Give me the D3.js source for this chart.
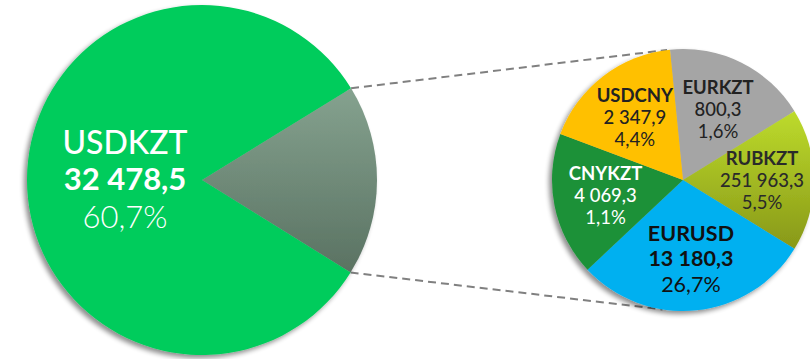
<!DOCTYPE html>
<html>
<head>
<meta charset="utf-8">
<script src="https://cdn.jsdelivr.net/npm/d3@7"></script>
<style>
  html, body { margin: 0; padding: 0; background: #fff; }
  svg { display: block; font-family: Lato, "Open Sans", sans-serif; }
</style>
</head>
<body>
<div id="chart"></div>
<script>
    // main pie: USDKZT against the rest (shares are the drawn angles in degrees)
    var mainCategories = ['Others', 'USDKZT'];
    var mainShares = [63.5, 296.5];
    var mainValue = 32478.5;
    var mainPercent = 60.7;

    // detail pie
    var pairs = ['EURKZT', 'RUBKZT', 'EURUSD', 'CNYKZT', 'USDCNY'];
    var volumes = [800.3, 251963.3, 13180.3, 4069.3, 2347.9];
    var percents = [1.6, 5.5, 26.7, 1.1, 4.4];
    var sliceShares = [64, 63.4, 105.1, 63.8, 63.7];

    var width = 810, height = 359;
    var deg = Math.PI / 180;

    var locale = d3.formatLocale({decimal: ',', thousands: '\u00a0', grouping: [3]});
    var fmtValue = locale.format(',.1f');
    var fmtPct = function (v) { return locale.format('.1f')(v) + '%'; };

    var svg = d3.select('#chart')
        .append('svg')
        .attr('width', width)
        .attr('height', height);

    var defs = svg.append('defs');

    // soft drop shadow under both pies
    var shadow = defs.append('filter')
        .attr('id', 'shadow')
        .attr('x', '-10%').attr('y', '-10%')
        .attr('width', '120%').attr('height', '120%');
    shadow.append('feGaussianBlur').attr('in', 'SourceAlpha').attr('stdDeviation', 2.5);
    shadow.append('feOffset').attr('dx', -3).attr('dy', 3).attr('result', 'off');
    shadow.append('feComponentTransfer').append('feFuncA').attr('type', 'linear').attr('slope', 0.45);
    var merge = shadow.append('feMerge');
    merge.append('feMergeNode');
    merge.append('feMergeNode').attr('in', 'SourceGraphic');

    var grayGrad = defs.append('linearGradient')
        .attr('id', 'grayGrad').attr('x1', 0).attr('y1', 0).attr('x2', 0).attr('y2', 1);
    grayGrad.append('stop').attr('offset', '0%').attr('stop-color', '#85a28f');
    grayGrad.append('stop').attr('offset', '100%').attr('stop-color', '#5a7262');

    var limeGrad = defs.append('linearGradient')
        .attr('id', 'limeGrad').attr('x1', 0).attr('y1', 0).attr('x2', 0).attr('y2', 1);
    limeGrad.append('stop').attr('offset', '0%').attr('stop-color', '#bddb2c');
    limeGrad.append('stop').attr('offset', '100%').attr('stop-color', '#889818');

    var mainColor = d3.scaleOrdinal().domain(mainCategories).range(['url(#grayGrad)', '#00cc5b']);
    var pairColor = d3.scaleOrdinal().domain(pairs)
        .range(['#a5a5a5', 'url(#limeGrad)', '#00b0f0', '#1e9139', '#ffc000']);
    var pairText = d3.scaleOrdinal().domain(pairs)
        .range(['#222', '#2a2a2a', '#111', '#fff', '#222']);

    // geometry
    var bigR = 175, bigC = [202, 180];
    var smallR = 131, smallC = [683, 180];

    var bigPie = d3.pie()
        .value(function (d) { return d; })
        .sort(null)
        .startAngle(58.4 * deg)
        .endAngle(58.4 * deg + 2 * Math.PI);

    var smallPie = d3.pie()
        .value(function (d) { return d; })
        .sort(null)
        .startAngle(-5.7 * deg)
        .endAngle(-5.7 * deg + 2 * Math.PI);

    var bigArcs = bigPie(mainShares);
    var smallArcs = smallPie(sliceShares);

    var bigArc = d3.arc().innerRadius(0).outerRadius(bigR);
    var smallArc = d3.arc().innerRadius(0).outerRadius(smallR);

    // connector lines, drawn first so the detail pie covers their ends
    var polar = function (c, r, a) { return [c[0] + r * Math.sin(a), c[1] - r * Math.cos(a)]; };
    var gray = bigArcs[0];
    var connectors = [
        [polar(bigC, bigR, gray.startAngle), polar(smallC, smallR, -7 * deg)],
        [polar(bigC, bigR, gray.endAngle), polar(smallC, smallR, 189 * deg)]
    ];
    svg.selectAll('.connector')
        .data(connectors)
        .enter()
        .append('line')
        .attr('class', 'connector')
        .attr('x1', function (d) { return d[0][0]; })
        .attr('y1', function (d) { return d[0][1]; })
        .attr('x2', function (d) { return d[1][0]; })
        .attr('y2', function (d) { return d[1][1]; })
        .attr('stroke', '#808080')
        .attr('stroke-width', 2)
        .attr('stroke-dasharray', '8,5');

    // big pie
    var big = svg.append('g')
        .attr('transform', 'translate(' + bigC[0] + ',' + bigC[1] + ')');
    big.append('g')
        .attr('filter', 'url(#shadow)')
        .selectAll('path')
        .data(bigArcs)
        .enter()
        .append('path')
        .attr('d', bigArc)
        .attr('fill', function (d, i) { return mainColor(mainCategories[i]); });

    var mainPos = d3.arc().innerRadius(77).outerRadius(77).centroid(bigArcs[1]);
    var mainLabel = big.append('text')
        .attr('transform', 'translate(' + mainPos[0] + ',' + mainPos[1] + ')')
        .attr('text-anchor', 'middle')
        .attr('fill', '#fff');
    mainLabel.append('tspan').attr('x', 0).attr('y', -26)
        .attr('font-size', 32).attr('font-weight', 500).text(mainCategories[1]);
    mainLabel.append('tspan').attr('x', 0).attr('y', 10)
        .attr('font-size', 31).attr('font-weight', 700).text(fmtValue(mainValue));
    mainLabel.append('tspan').attr('x', 0).attr('y', 48)
        .attr('font-size', 31).attr('font-weight', 300).text(fmtPct(mainPercent));

    // detail pie
    var small = svg.append('g')
        .attr('transform', 'translate(' + smallC[0] + ',' + smallC[1] + ')');
    small.append('g')
        .attr('filter', 'url(#shadow)')
        .selectAll('path')
        .data(smallArcs)
        .enter()
        .append('path')
        .attr('d', smallArc)
        .attr('fill', function (d, i) { return pairColor(pairs[i]); });

    var labelArc = d3.arc().innerRadius(79).outerRadius(79);
    var labels = small.selectAll('.label')
        .data(smallArcs)
        .enter()
        .append('text')
        .attr('class', 'label')
        .attr('transform', function (d) { return 'translate(' + labelArc.centroid(d) + ')'; })
        .attr('text-anchor', 'middle')
        .attr('fill', function (d, i) { return pairText(pairs[i]); })
        .attr('font-size', function (d, i) { return pairs[i] === 'EURUSD' ? 21.5 : 18.5; });

    labels.each(function (d, i) {
        var t = d3.select(this);
        var isMain = pairs[i] === 'EURUSD';
        var step = isMain ? 25.5 : 22;
        var shift = isMain ? 7.5 : 6.5;
        t.append('tspan').attr('x', 0).attr('y', shift - step).attr('font-weight', 700).text(pairs[i]);
        t.append('tspan').attr('x', 0).attr('y', shift).attr('font-weight', isMain ? 700 : 500).text(fmtValue(volumes[i]));
        t.append('tspan').attr('x', 0).attr('y', shift + step).attr('font-weight', 400).text(fmtPct(percents[i]));
    });
</script>
</body>
</html>
